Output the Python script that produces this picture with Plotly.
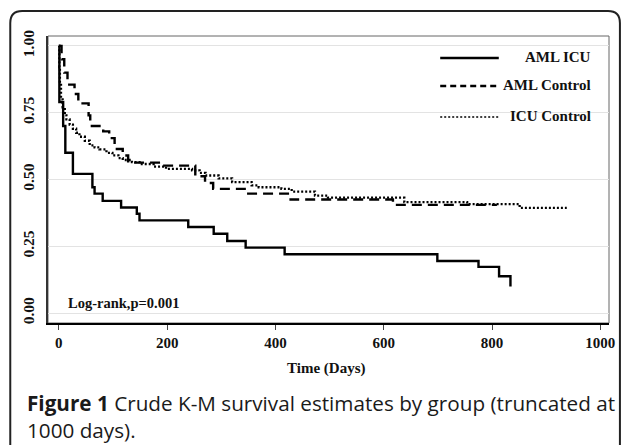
import plotly.graph_objects as go

# ---- data ----
aml_icu_t = [0, 1, 8, 12, 26, 62, 66, 81, 115, 144, 149, 239, 286, 311, 345, 417, 699, 775, 813, 834]
aml_icu_s = [1.0, 0.79, 0.70, 0.60, 0.521, 0.471, 0.447, 0.42, 0.395, 0.372, 0.347, 0.322, 0.297, 0.27, 0.245, 0.22, 0.195, 0.173, 0.138, 0.10]

aml_ctrl_t = [0, 5, 10, 16, 29, 36, 55, 58, 82, 93, 103, 118, 128, 190, 252, 270, 285, 347, 428, 617, 809]
aml_ctrl_s = [1.0, 0.95, 0.90, 0.855, 0.82, 0.785, 0.74, 0.70, 0.68, 0.655, 0.614, 0.59, 0.563, 0.552, 0.512, 0.487, 0.465, 0.447, 0.425, 0.405, 0.405]

icu_ctrl_t = [0, 1, 2, 4, 7, 11, 14, 20, 26, 32, 38, 48, 57, 66, 75, 88, 99, 110, 118, 135, 149, 175, 198, 246,
              260, 271, 295, 320, 356, 369, 411, 430, 473, 497, 638, 754, 851, 938]
icu_ctrl_s = [1.0, 0.92, 0.86, 0.80, 0.77, 0.74, 0.725, 0.705, 0.69, 0.675, 0.66, 0.645, 0.628, 0.62, 0.613, 0.60,
              0.59, 0.58, 0.573, 0.565, 0.558, 0.548, 0.54, 0.534, 0.525, 0.515, 0.504, 0.49, 0.478, 0.471, 0.465,
              0.455, 0.44, 0.432, 0.415, 0.408, 0.394, 0.394]

x_ticks = [0, 200, 400, 600, 800, 1000]
y_ticks = [0.0, 0.25, 0.5, 0.75, 1.0]
y_tick_labels = ["0.00", "0.25", "0.50", "0.75", "1.00"]
legend_names = ["AML ICU", "AML Control", "ICU Control"]

W, H = 627, 445
L, R, T, B = 48, 613, 36, 323  # plot area in pixels


def px(xp):
    return (xp - L) / (R - L)


def py(yp):
    return (B - yp) / (B - T)


serif = "Liberation Serif, Times New Roman, serif"

fig = go.Figure()
fig.add_trace(go.Scatter(x=aml_icu_t, y=aml_icu_s, mode="lines", line_shape="hv",
                         line=dict(color="black", width=2.4), name=legend_names[0]))
fig.add_trace(go.Scatter(x=aml_ctrl_t, y=aml_ctrl_s, mode="lines", line_shape="hv",
                         line=dict(color="black", width=2.4, dash="10px,6px"), name=legend_names[1]))
fig.add_trace(go.Scatter(x=icu_ctrl_t, y=icu_ctrl_s, mode="lines", line_shape="hv",
                         line=dict(color="black", width=2.3, dash="2px,2px"), name=legend_names[2]))

shapes = []
# plot frame
shapes.append(dict(type="rect", xref="paper", yref="paper", x0=0, y0=0, x1=1, y1=1,
                   line=dict(color="#666", width=1), layer="below"))
# outer rounded box
yb = py(460)
r = 12
path = (f"M {px(10)},{yb} L {px(10)},{py(11 + r)} Q {px(10)},{py(11)} {px(10 + r)},{py(11)} "
        f"L {px(624 - r)},{py(11)} Q {px(624)},{py(11)} {px(624)},{py(11 + r)} L {px(624)},{yb}")
shapes.append(dict(type="path", xref="paper", yref="paper", path=path,
                   line=dict(color="#222", width=2)))

# legend samples
leg_y = [58, 86, 117]
leg_dash = ["solid", "6px,4px", "2px,2px"]
leg_w = [2.4, 2.4, 1.6]
annotations = []
for i in range(3):
    shapes.append(dict(type="line", xref="paper", yref="paper", x0=px(443), x1=px(502),
                       y0=py(leg_y[i]), y1=py(leg_y[i]),
                       line=dict(color="black", width=leg_w[i], dash=leg_dash[i])))
    annotations.append(dict(xref="paper", yref="paper", x=px(597), y=py(leg_y[i] - 1), xanchor="right",
                            yanchor="middle", text=f"<b>{legend_names[i]}</b>", showarrow=False,
                            font=dict(family=serif, size=15, color="#111")))

annotations.append(dict(xref="paper", yref="paper", x=px(66), y=py(303), xanchor="left", yanchor="middle",
                        text="<b>Log-rank,p=0.001</b>", showarrow=False,
                        font=dict(family=serif, size=14.5, color="#111")))
annotations.append(dict(xref="paper", yref="paper", x=px(328), y=py(368), xanchor="center", yanchor="middle",
                        text="<b>Time (Days)</b>", showarrow=False,
                        font=dict(family=serif, size=15, color="#111")))
cap_font = dict(family="Open Sans, Noto Sans, sans-serif", size=20.7, color="#1a1a1a")
annotations.append(dict(xref="paper", yref="paper", x=px(25), y=py(403), xanchor="left", yanchor="middle",
                        text="<b>Figure 1</b> Crude K-M survival estimates by group (truncated at",
                        showarrow=False, font=cap_font))
annotations.append(dict(xref="paper", yref="paper", x=px(25), y=py(430), xanchor="left", yanchor="middle",
                        text="1000 days).", showarrow=False, font=cap_font))

fig.update_layout(
    width=W, height=H,
    margin=dict(l=L, r=W - R, t=T, b=H - B),
    paper_bgcolor="white", plot_bgcolor="white",
    showlegend=False,
    shapes=shapes, annotations=annotations,
    xaxis=dict(range=[-20, 1016], tickvals=x_ticks, ticktext=[f"<b>{v}</b>" for v in x_ticks],
               showgrid=False, zeroline=False, showline=True, linecolor="black", linewidth=2,
               ticks="outside", ticklen=5, tickcolor="#444", tickwidth=1,
               tickfont=dict(family=serif, size=15, color="#111")),
    yaxis=dict(range=[-0.037, 1.037], tickvals=y_ticks, ticktext=[f"<b>{t}</b>" for t in y_tick_labels],
               showgrid=True, gridcolor="#e3e3e3", gridwidth=1, zeroline=False,
               showline=True, linecolor="#333", linewidth=1.5, ticks="", tickangle=-90,
               ticklabelstandoff=6,
               tickfont=dict(family=serif, size=15.5, color="#111")),
)
fig.write_html("out.html", config={"displayModeBar": False},
               post_script="document.body.style.margin='0';document.body.style.overflow='hidden';")
